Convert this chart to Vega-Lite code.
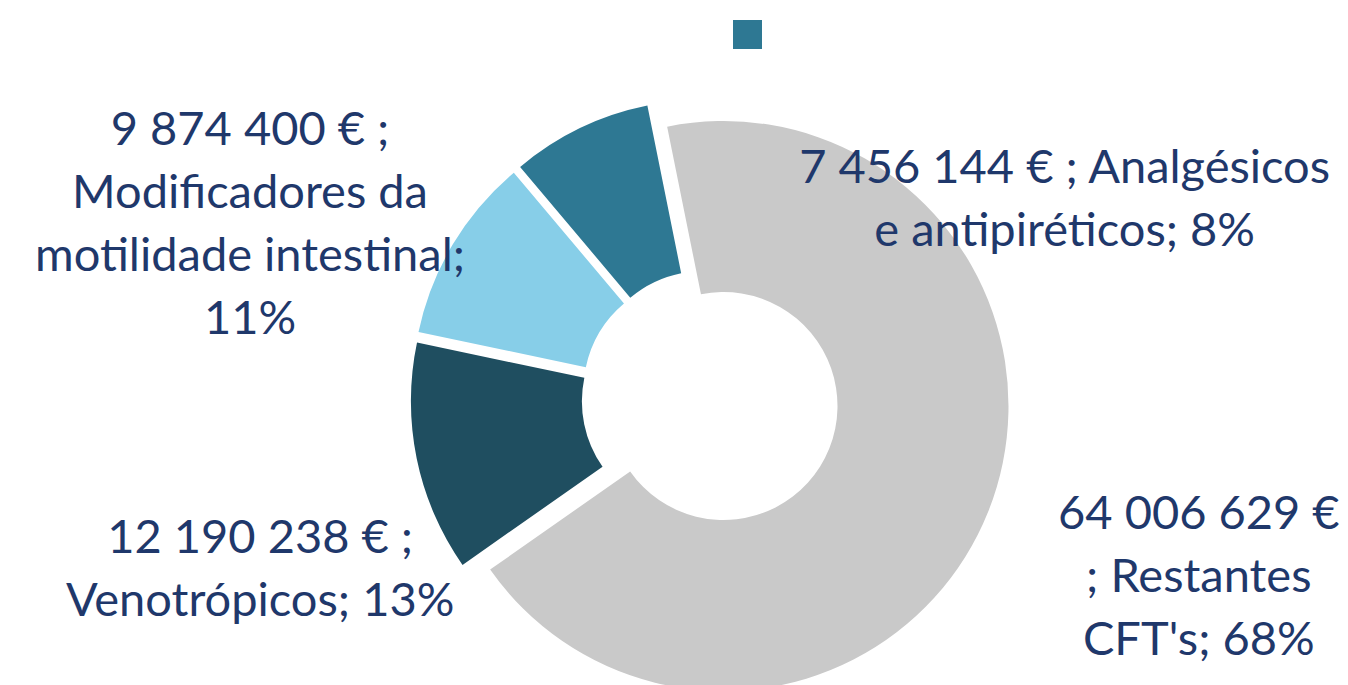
{
  "$schema": "https://vega.github.io/schema/vega-lite/v6.json",
  "width": 1276,
  "height": 574,
  "autosize": "none",
  "padding": {"left": 72, "top": 111, "right": 0, "bottom": 0},
  "background": "white",
  "view": {"stroke": null},
  "data": {
    "values": [
      {"cat": "Restantes", "value": 64006629, "label": "64 006 629 €\n; Restantes\nCFT's; 68%"},
      {"cat": "Venotrópicos", "value": 12190238, "label": "12 190 238 € ;\nVenotrópicos; 13%"},
      {"cat": "Modificadores", "value": 9874400, "label": "9 874 400 € ;\nModificadores da\nmotilidade intestinal;\n11%"},
      {"cat": "Analgésicos", "value": 7456144, "label": "7 456 144 € ; Analgésicos\ne antipiréticos; 8%"}
    ]
  },
  "encoding": {
    "theta": {"field": "value", "type": "quantitative", "stack": true, "scale": {"range": [-0.199, 6.0842]}},
    "order": {"field": "value", "type": "quantitative", "sort": "descending"},
    "color": {
      "field": "cat",
      "type": "nominal",
      "scale": {
        "domain": ["Restantes", "Venotrópicos", "Modificadores", "Analgésicos"],
        "range": ["#c9c9c9", "#1f4e60", "#87cee8", "#2e7893"]
      },
      "legend": {
        "values": ["Analgésicos"],
        "labelExpr": "''",
        "title": null,
        "orient": "none",
        "legendX": 661,
        "legendY": -91,
        "padding": 0,
        "symbolType": "square",
        "symbolSize": 841,
        "symbolStrokeWidth": 0,
        "symbolOpacity": 1
      }
    }
  },
  "layer": [
    {
      "mark": {"type": "arc", "outerRadius": 285, "innerRadius": 114, "xOffset": 13.5, "yOffset": 8},
      "encoding": {"opacity": {"condition": {"test": "datum.cat === 'Restantes'", "value": 1}, "value": 0}}
    },
    {
      "mark": {"type": "arc", "outerRadius": 285, "innerRadius": 114, "xOffset": -14.1, "yOffset": 3.3},
      "encoding": {"opacity": {"condition": {"test": "datum.cat === 'Venotrópicos'", "value": 1}, "value": 0}}
    },
    {
      "mark": {"type": "arc", "outerRadius": 285, "innerRadius": 114, "xOffset": -12.6, "yOffset": -7.3},
      "encoding": {"opacity": {"condition": {"test": "datum.cat === 'Modificadores'", "value": 1}, "value": 0}}
    },
    {
      "mark": {"type": "arc", "outerRadius": 285, "innerRadius": 114, "xOffset": -6.3, "yOffset": -13.1},
      "encoding": {"opacity": {"condition": {"test": "datum.cat === 'Analgésicos'", "value": 1}, "value": 0}}
    },
    {
      "mark": {"type": "text", "radius": 521, "dx": 5, "dy": -76.5, "font": "Lato", "fontSize": 47, "lineBreak": "\n", "lineHeight": 63, "align": "center", "baseline": "middle"},
      "encoding": {
        "color": {"value": "#1f386b"},
        "text": {"condition": {"test": "datum.cat === 'Restantes'", "field": "label", "type": "nominal"}, "value": ""}
      }
    },
    {
      "mark": {"type": "text", "radius": 475, "dx": 15.5, "dy": 45.5, "font": "Lato", "fontSize": 47, "lineBreak": "\n", "lineHeight": 63, "align": "center", "baseline": "middle"},
      "encoding": {
        "color": {"value": "#1f386b"},
        "text": {"condition": {"test": "datum.cat === 'Venotrópicos'", "field": "label", "type": "nominal"}, "value": ""}
      }
    },
    {
      "mark": {"type": "text", "radius": 483, "dx": -45.5, "dy": -18.5, "font": "Lato", "fontSize": 47, "lineBreak": "\n", "lineHeight": 63, "align": "center", "baseline": "middle"},
      "encoding": {
        "color": {"value": "#1f386b"},
        "text": {"condition": {"test": "datum.cat === 'Modificadores'", "field": "label", "type": "nominal"}, "value": ""}
      }
    },
    {
      "mark": {"type": "text", "radius": 300, "dx": 485, "dy": 41.5, "font": "Lato", "fontSize": 47, "lineBreak": "\n", "lineHeight": 63, "align": "center", "baseline": "middle"},
      "encoding": {
        "color": {"value": "#1f386b"},
        "text": {"condition": {"test": "datum.cat === 'Analgésicos'", "field": "label", "type": "nominal"}, "value": ""}
      }
    }
  ]
}
